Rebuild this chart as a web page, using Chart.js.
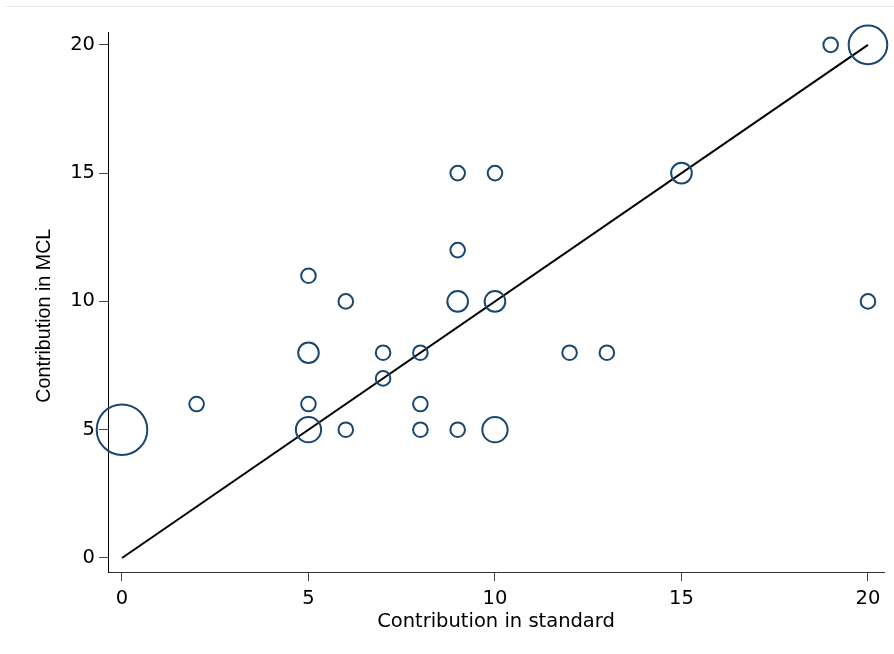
<!DOCTYPE html>
<html>
<head>
<meta charset="utf-8">
<script src="https://cdn.jsdelivr.net/npm/chart.js@4"></script>
<style>
  body { margin: 0; background: #fff; }
  #wrap { position: relative; width: 894px; height: 654px; }
  #topline { position: absolute; left: 5px; right: 0; top: 6px; border-top: 1px solid #e4ecee; }
</style>
</head>
<body>
<div id="wrap">
  <div id="topline"></div>
  <canvas id="myChart" width="894" height="654"></canvas>
</div>
<script>
// contribution pairs (standard vs MCL) and how many people gave each pair
const standardX = [0, 2, 5, 5, 5, 5, 6, 6, 7, 7, 8, 8, 8, 9, 9, 9, 9, 10, 10, 10, 12, 13, 15, 19, 20, 20];
const mclY      = [5, 6, 11, 8, 6, 5, 10, 5, 8, 7, 8, 6, 5, 15, 12, 10, 5, 15, 10, 5, 8, 8, 15, 20, 20, 10];
const counts    = [12, 1, 1, 2, 1, 3, 1, 1, 1, 1, 1, 1, 1, 1, 1, 2, 1, 1, 2, 3, 1, 1, 2, 1, 7, 1];

// 45 degree line
const lineX = [0, 20];
const lineY = [0, 20];

const xTicks = [0, 5, 10, 15, 20];
const yTicks = [0, 5, 10, 15, 20];

const navy = '#1a476f';
// stata stretches the horizontal text a bit, DejaVu is the closest wide sans
const wideFont = { family: "'DejaVu Sans', sans-serif", size: 19.5 };
const titleFont = { family: "'Liberation Sans', Arial, sans-serif", size: 19.7 };

function mainEvent() {
  const ctx = document.querySelector('#myChart');

  const points = standardX.map((x, i) => ({ x: x, y: mclY[i] }));
  const diag = lineX.map((x, i) => ({ x: x, y: lineY[i] }));

  new Chart(ctx, {
    type: 'scatter',
    data: {
      datasets: [{
        label: 'Contribution',
        data: points,
        clip: false,
        pointRadius: (c) => 7.3 * Math.sqrt(counts[c.dataIndex] || 1),
        pointHoverRadius: (c) => 7.3 * Math.sqrt(counts[c.dataIndex] || 1),
        backgroundColor: 'rgba(0,0,0,0)',
        borderColor: navy,
        borderWidth: 2,
      }, {
        type: 'line',
        label: 'Diagonal',
        data: diag,
        clip: false,
        borderColor: '#000',
        borderWidth: 2,
        pointRadius: 0,
        fill: false,
      }],
    },
    options: {
      responsive: false,
      animation: false,
      events: [],
      layout: { autoPadding: false, padding: { top: 32, right: 10, bottom: 0, left: 0 } },
      plugins: { legend: { display: false }, tooltip: { enabled: false } },
      scales: {
        x: {
          type: 'linear',
          min: -0.375,
          max: 20.43,
          afterBuildTicks: (s) => { s.ticks = xTicks.map(v => ({ value: v })); },
          afterFit: (s) => { s.height = 82; s.paddingLeft = 0; s.paddingRight = 0; },
          border: { color: '#333', width: 1 },
          grid: { drawOnChartArea: false, drawTicks: true, tickLength: 9, color: '#444' },
          ticks: { color: '#000', font: wideFont, padding: 6, maxRotation: 0 },
          title: { display: true, text: 'Contribution in standard', color: '#000', font: wideFont, padding: { top: 0, bottom: 20 } },
        },
        y: {
          type: 'linear',
          min: -0.546,
          max: 20.5,
          afterBuildTicks: (s) => { s.ticks = yTicks.map(v => ({ value: v })); },
          afterFit: (s) => { s.width = 108; s.paddingTop = 0; s.paddingBottom = 0; },
          border: { color: '#000', width: 1 },
          grid: { drawOnChartArea: false, drawTicks: true, tickLength: 9, color: '#444' },
          ticks: { color: '#000', font: wideFont, padding: 4 },
          // trailing spaces push the title a little below the axis centre, like the original
          title: { display: true, text: 'Contribution in MCL     ', color: '#000', font: titleFont, padding: { top: 33, bottom: 0 } },
        },
      },
    },
  });
}

document.addEventListener("DOMContentLoaded", () => mainEvent());
</script>
</body>
</html>
